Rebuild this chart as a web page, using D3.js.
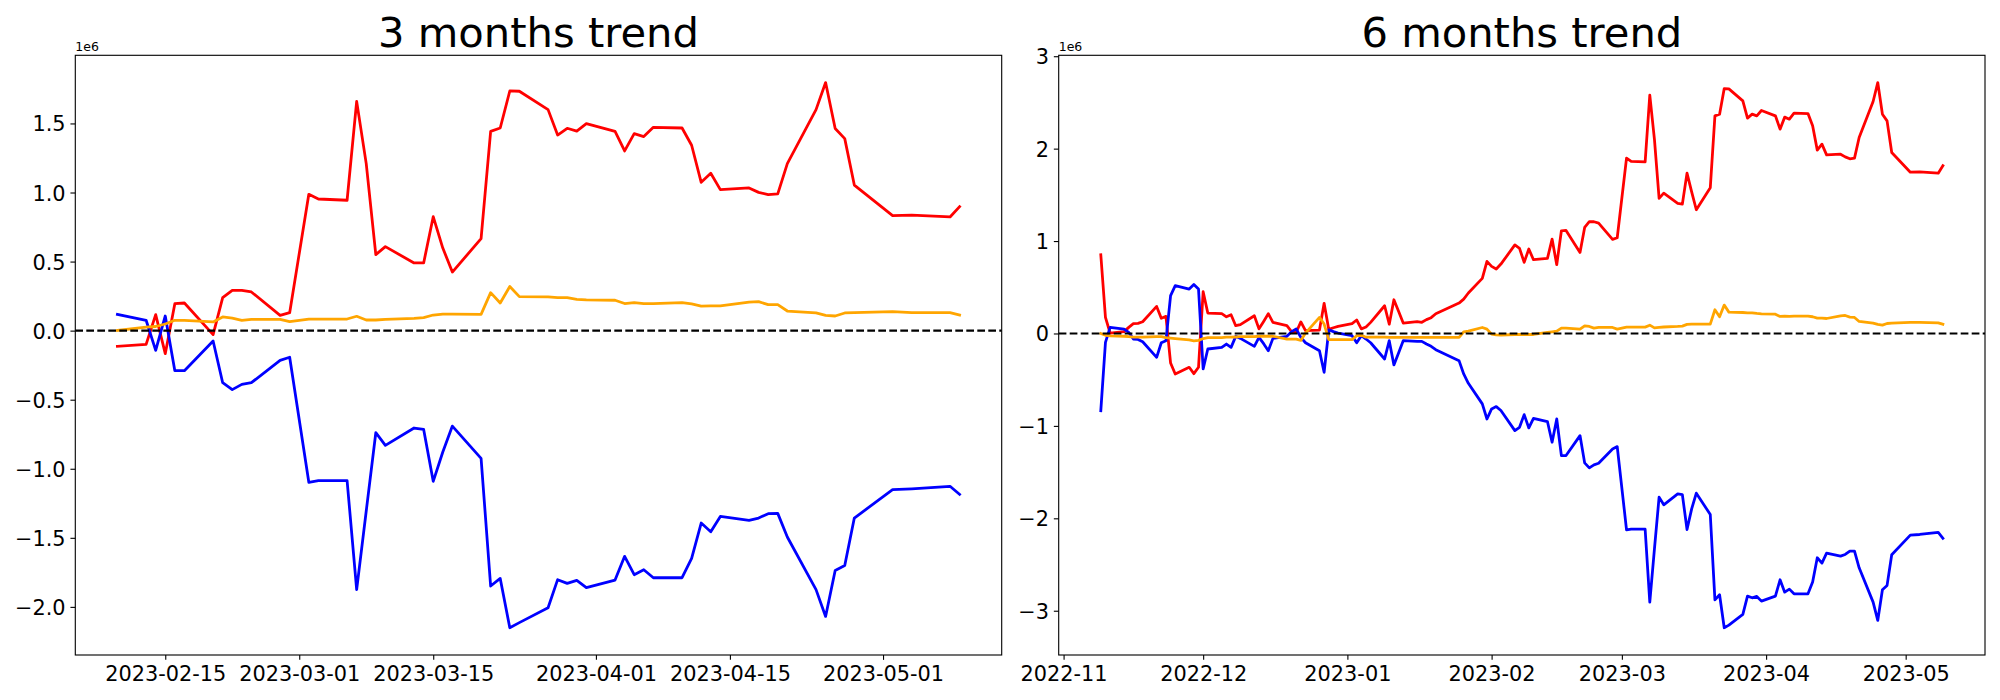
<!DOCTYPE html>
<html><head><meta charset="utf-8">
<script src="https://cdn.jsdelivr.net/npm/d3@7"></script>
<style>body{margin:0;background:#fff} text{font-family:"DejaVu Sans",sans-serif}</style>
</head><body><svg id="c" width="2000" height="700"></svg>
<script>
// ---- 3 months (values in units of 1e6) ----
const dates3 = ["2023-02-10","2023-02-13","2023-02-14","2023-02-15","2023-02-16","2023-02-17","2023-02-20","2023-02-21","2023-02-22","2023-02-23","2023-02-24","2023-02-27","2023-02-28","2023-03-02","2023-03-03","2023-03-06","2023-03-07","2023-03-08","2023-03-09","2023-03-10","2023-03-13","2023-03-14","2023-03-15","2023-03-16","2023-03-17","2023-03-20","2023-03-21","2023-03-22","2023-03-23","2023-03-24","2023-03-27","2023-03-28","2023-03-29","2023-03-30","2023-03-31","2023-04-03","2023-04-04","2023-04-05","2023-04-06","2023-04-07","2023-04-10","2023-04-11","2023-04-12","2023-04-13","2023-04-14","2023-04-17","2023-04-18","2023-04-19","2023-04-20","2023-04-21","2023-04-24","2023-04-25","2023-04-26","2023-04-27","2023-04-28","2023-05-02","2023-05-04","2023-05-08","2023-05-09"];
const red3 = [-0.114,-0.099,0.116,-0.167,0.195,0.2,-0.029,0.239,0.292,0.292,0.28,0.111,0.13,0.987,0.953,0.944,1.66,1.209,0.55,0.608,0.49,0.49,0.825,0.598,0.424,0.666,1.443,1.467,1.735,1.733,1.6,1.416,1.465,1.445,1.499,1.443,1.301,1.426,1.405,1.472,1.467,1.342,1.074,1.139,1.021,1.033,1.001,0.985,0.99,1.209,1.6,1.796,1.463,1.39,1.054,0.833,0.837,0.823,0.898];
const blue3 = [0.118,0.075,-0.143,0.106,-0.29,-0.29,-0.075,-0.377,-0.427,-0.389,-0.377,-0.215,-0.193,-1.098,-1.086,-1.086,-1.875,-1.306,-0.739,-0.831,-0.705,-0.715,-1.091,-0.879,-0.691,-0.925,-1.849,-1.794,-2.151,-2.114,-2.006,-1.803,-1.83,-1.808,-1.861,-1.806,-1.634,-1.767,-1.731,-1.789,-1.789,-1.649,-1.393,-1.456,-1.345,-1.374,-1.357,-1.325,-1.323,-1.494,-1.875,-2.069,-1.736,-1.7,-1.357,-1.151,-1.145,-1.127,-1.185];
const orange3 = [0.002,0.026,0.03,0.048,0.075,0.075,0.063,0.099,0.091,0.075,0.082,0.082,0.065,0.084,0.084,0.084,0.104,0.077,0.077,0.082,0.089,0.094,0.113,0.12,0.12,0.118,0.275,0.2,0.319,0.246,0.244,0.239,0.239,0.227,0.222,0.22,0.196,0.203,0.196,0.196,0.203,0.193,0.178,0.18,0.18,0.207,0.21,0.188,0.188,0.142,0.128,0.111,0.106,0.128,0.13,0.138,0.13,0.13,0.113];
const xTicks3 = ["2023-02-15","2023-03-01","2023-03-15","2023-04-01","2023-04-15","2023-05-01"];
const yTicks3 = [-2.0,-1.5,-1.0,-0.5,0.0,0.5,1.0,1.5];

// ---- 6 months (values in units of 1e6) ----
const dates6 = ["2022-11-09","2022-11-10","2022-11-11","2022-11-14","2022-11-15","2022-11-16","2022-11-17","2022-11-18","2022-11-21","2022-11-22","2022-11-23","2022-11-24","2022-11-25","2022-11-28","2022-11-29","2022-11-30",
"2022-12-01","2022-12-02","2022-12-05","2022-12-06","2022-12-07","2022-12-08","2022-12-09","2022-12-12","2022-12-13","2022-12-14","2022-12-15","2022-12-16","2022-12-19","2022-12-20","2022-12-21","2022-12-22","2022-12-23","2022-12-26","2022-12-27","2022-12-28","2022-12-29","2022-12-30",
"2023-01-02","2023-01-03","2023-01-04","2023-01-05","2023-01-06","2023-01-09","2023-01-10","2023-01-11","2023-01-12","2023-01-13","2023-01-16","2023-01-17","2023-01-18","2023-01-19","2023-01-20","2023-01-25","2023-01-26","2023-01-27","2023-01-30","2023-01-31",
"2023-02-01","2023-02-02","2023-02-03","2023-02-06","2023-02-07","2023-02-08","2023-02-09",
"2023-02-10","2023-02-13","2023-02-14","2023-02-15","2023-02-16","2023-02-17","2023-02-20","2023-02-21","2023-02-22","2023-02-23","2023-02-24","2023-02-27","2023-02-28","2023-03-02","2023-03-03","2023-03-06","2023-03-07","2023-03-08","2023-03-09","2023-03-10","2023-03-13","2023-03-14","2023-03-15","2023-03-16","2023-03-17","2023-03-20","2023-03-21","2023-03-22","2023-03-23","2023-03-24","2023-03-27","2023-03-28","2023-03-29","2023-03-30","2023-03-31","2023-04-03","2023-04-04","2023-04-05","2023-04-06","2023-04-07","2023-04-10","2023-04-11","2023-04-12","2023-04-13","2023-04-14","2023-04-17","2023-04-18","2023-04-19","2023-04-20","2023-04-21","2023-04-24","2023-04-25","2023-04-26","2023-04-27","2023-04-28","2023-05-02","2023-05-04","2023-05-08","2023-05-09"];
const red6 = [0.852,0.174,0.005,0.02,0.066,0.106,0.109,0.127,0.293,0.165,0.185,-0.32,-0.438,-0.366,-0.435,-0.366,
0.452,0.221,0.214,0.18,0.203,0.084,0.095,0.192,0.05,0.13,0.214,0.12,0.084,0.02,0.013,0.125,0.03,0.037,0.326,0.044,0.062,0.077,
0.106,0.146,0.05,0.07,0.12,0.3,0.1,0.365,0.24,0.113,0.128,0.121,0.15,0.171,0.214,0.329,0.372,0.438,0.596,0.78,
0.726,0.697,0.751,0.958,0.921,0.77,0.914,
0.798,0.812,1.021,0.744,1.111,1.115,0.877,1.147,1.209,1.209,1.195,1.018,1.036,1.897,1.861,1.857,2.578,2.1,1.461,1.518,1.407,1.4,1.735,1.533,1.339,1.576,2.355,2.373,2.65,2.647,2.517,2.33,2.373,2.355,2.413,2.355,2.211,2.341,2.319,2.384,2.38,2.247,1.984,2.049,1.933,1.94,1.911,1.89,1.897,2.12,2.51,2.715,2.373,2.3,1.958,1.745,1.749,1.734,1.815];
const blue6 = [-0.835,-0.096,0.066,0.048,0.013,-0.06,-0.065,-0.09,-0.258,-0.1,-0.078,0.409,0.517,0.481,0.53,0.481,
-0.384,-0.168,-0.15,-0.114,-0.15,-0.031,-0.053,-0.14,-0.042,-0.11,-0.186,-0.053,-0.031,0.02,0.048,-0.042,-0.1,-0.186,-0.42,0.04,0.02,0.005,
-0.024,-0.1,-0.024,-0.06,-0.1,-0.276,-0.078,-0.34,-0.21,-0.078,-0.085,-0.085,-0.114,-0.139,-0.175,-0.294,-0.438,-0.539,-0.762,-0.925,
-0.816,-0.791,-0.834,-1.051,-1.015,-0.878,-1.022,
-0.918,-0.953,-1.177,-0.925,-1.321,-1.321,-1.105,-1.4,-1.454,-1.422,-1.404,-1.249,-1.224,-2.125,-2.118,-2.118,-2.907,-2.33,-1.771,-1.854,-1.735,-1.743,-2.121,-1.898,-1.728,-1.959,-2.882,-2.827,-3.184,-3.156,-3.04,-2.842,-2.86,-2.845,-2.896,-2.842,-2.665,-2.799,-2.766,-2.817,-2.817,-2.69,-2.427,-2.485,-2.377,-2.409,-2.391,-2.355,-2.355,-2.535,-2.907,-3.105,-2.773,-2.726,-2.395,-2.182,-2.175,-2.153,-2.215];
const orange6 = [0.0,-0.02,-0.025,-0.03,-0.035,-0.04,-0.04,-0.04,-0.035,-0.035,-0.045,-0.05,-0.055,-0.07,-0.08,-0.075,
-0.055,-0.045,-0.045,-0.04,-0.04,-0.038,-0.035,-0.033,-0.03,-0.03,-0.03,-0.03,-0.06,-0.06,-0.062,-0.075,0.004,0.174,0.102,-0.067,-0.067,-0.067,
-0.067,-0.024,-0.02,-0.04,-0.04,-0.04,-0.042,-0.042,-0.042,-0.042,-0.042,-0.042,-0.042,-0.042,-0.042,-0.042,0.018,0.025,0.065,0.047,
-0.007,-0.014,-0.018,-0.011,-0.011,-0.011,-0.011,
-0.011,0.011,0.018,0.025,0.058,0.058,0.047,0.083,0.076,0.058,0.065,0.065,0.047,0.069,0.069,0.069,0.09,0.061,0.065,0.07,0.076,0.08,0.098,0.101,0.101,0.101,0.257,0.181,0.307,0.231,0.227,0.224,0.224,0.217,0.213,0.209,0.184,0.188,0.184,0.188,0.188,0.181,0.166,0.166,0.162,0.191,0.195,0.177,0.173,0.13,0.112,0.098,0.09,0.108,0.112,0.119,0.119,0.115,0.1];
const xTicks6 = ["2022-11-01","2022-12-01","2023-01-01","2023-02-01","2023-03-01","2023-04-01","2023-05-01"];
const yTicks6 = [-3,-2,-1,0,1,2,3];

const svg = d3.select("#c");
svg.append("rect").attr("width",2000).attr("height",700).attr("fill","#fff");
const parse = d3.utcParse("%Y-%m-%d");
const FS = 20.83, TICK = 4.86;

function panel(cfg){
  const {l,r,t,b} = cfg.box;
  const dates = cfg.dates.map(parse);
  const [d0,d1] = d3.extent(dates), span = d1-d0;
  const x = d3.scaleUtc().domain([new Date(+d0-0.05*span), new Date(+d1+0.05*span)]).range([l,r]);
  const all = cfg.red.concat(cfg.blue, cfg.orange);
  const [v0,v1] = d3.extent(all), vs = v1-v0;
  const y = d3.scaleLinear().domain([v0-0.05*vs, v1+0.05*vs]).range([b,t]);
  const g = svg.append("g");
  const line = d3.line().x((d,i)=>x(dates[i])).y(d=>y(d));
  [[cfg.red,"#ff0000"],[cfg.blue,"#0000ff"],[cfg.orange,"#ffa500"]].forEach(([vals,col])=>{
    g.append("path").datum(vals).attr("d",line).attr("fill","none").attr("stroke",col)
     .attr("stroke-width",2.78).attr("stroke-linejoin","round").attr("stroke-linecap","square");
  });
  g.append("line").attr("x1",l).attr("x2",r).attr("y1",y(0)).attr("y2",y(0))
   .attr("stroke","#000").attr("stroke-width",2.08).attr("stroke-dasharray","7.7,3.3");

  const xa = g.append("g").attr("transform",`translate(0,${b})`)
    .call(d3.axisBottom(x).tickValues(cfg.xTicks.map(parse)).tickFormat(d3.utcFormat(cfg.xFmt))
      .tickSizeInner(TICK).tickSizeOuter(0).tickPadding(4.86));
  xa.select(".domain").remove();
  xa.selectAll("line").attr("stroke","#000").attr("stroke-width",1.11);
  xa.selectAll("text").attr("y",26).attr("dy",null).attr("font-size",FS).attr("fill","#000").attr("font-family","DejaVu Sans");

  const ya = g.append("g").attr("transform",`translate(${l},0)`)
    .call(d3.axisLeft(y).tickValues(cfg.yTicks).tickFormat(cfg.yFmt)
      .tickSizeInner(TICK).tickSizeOuter(0).tickPadding(4.86));
  ya.select(".domain").remove();
  ya.selectAll("line").attr("stroke","#000").attr("stroke-width",1.11);
  ya.selectAll("text").attr("dy","0.36em").attr("font-size",FS).attr("fill","#000").attr("font-family","DejaVu Sans");

  g.append("rect").attr("x",l).attr("y",t).attr("width",r-l).attr("height",b-t)
   .attr("fill","none").attr("stroke","#000").attr("stroke-width",1.11);

  g.append("text").attr("x",l).attr("y",50.7).attr("font-size",12.5).text("1e6");
  g.append("text").attr("x",(l+r)/2).attr("y",46.5).attr("text-anchor","middle")
   .attr("font-size",41.67).text(cfg.title);
}

panel({title:"3 months trend", dates:dates3, red:red3, blue:blue3, orange:orange3,
  xTicks:xTicks3, xFmt:"%Y-%m-%d", yTicks:yTicks3, yFmt:d3.format(".1f"),
  box:{l:75.3, r:1001.7, t:55.3, b:655}});
panel({title:"6 months trend", dates:dates6, red:red6, blue:blue6, orange:orange6,
  xTicks:xTicks6, xFmt:"%Y-%m", yTicks:yTicks6, yFmt:d3.format("d"),
  box:{l:1058.7, r:1985, t:55.3, b:655}});
</script></body></html>
